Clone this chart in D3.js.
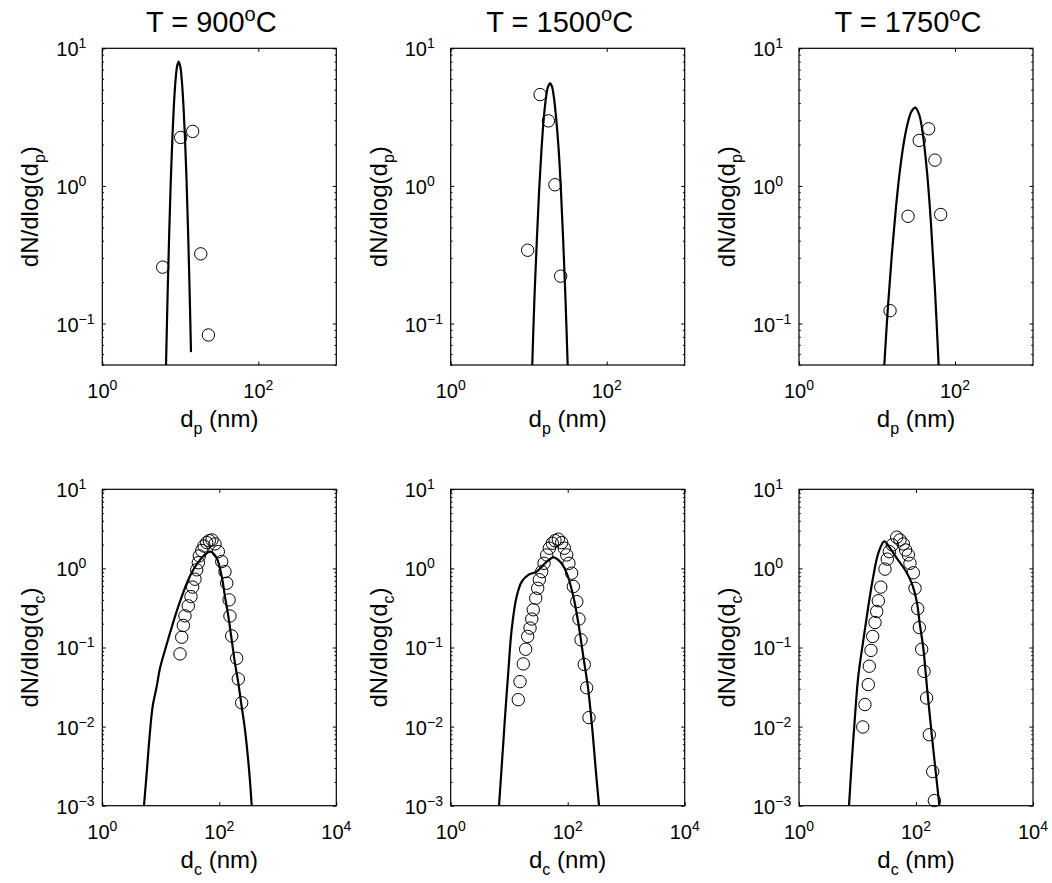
<!DOCTYPE html>
<html>
<head>
<meta charset="utf-8">
<script src="https://cdn.jsdelivr.net/npm/d3@7"></script>
<style>
  body { margin: 0; background: #fff; }
  svg text { font-family: "Liberation Sans", Arial, Helvetica, sans-serif; fill: #000; }
</style>
</head>
<body>
<div id="chart"></div>
<script>
// titles (temperature in degrees C)
const temps = ["900", "1500", "1750"];

// tick values
const xTicksTop = [1, 100];
const xTicksBottom = [1, 100, 10000];
const yTicksTop = [0.1, 1, 10];
const yTicksBottom = [0.001, 0.01, 0.1, 1, 10];

// primary particles, model curves (d_p in nm, dN/dlog(d_p))
const fitP900D = [6.56, 6.90, 7.23, 7.57, 7.93, 8.30, 8.69, 9.10, 9.53, 9.98, 10.45, 10.94, 11.46, 12.0, 12.56, 13.15, 13.71];
const fitP900N = [0.05, 0.177, 0.485, 1.14, 2.30, 3.97, 5.86, 7.40, 8.0, 7.40, 5.86, 3.97, 2.30, 1.14, 0.485, 0.177, 0.062];
const fitP1500D = [11.1, 11.8, 12.7, 13.6, 14.6, 15.6, 16.7, 17.7, 18.8, 19.9, 21.0, 22.5, 24.2, 25.9, 27.7, 29.7, 31.6];
const fitP1500N = [0.05, 0.144, 0.397, 0.929, 1.85, 3.10, 4.43, 5.26, 5.57, 5.26, 4.43, 3.10, 1.85, 0.929, 0.397, 0.144, 0.05];
const fitP1750D = [12.4, 13.8, 15.5, 17.4, 19.5, 21.9, 24.6, 27.6, 31.0, 34.8, 39.0, 43.8, 49.1, 55.1, 61.7];
const fitP1750N = [0.05, 0.131, 0.318, 0.673, 1.245, 2.01, 2.82, 3.47, 3.71, 3.29, 2.30, 1.26, 0.542, 0.184, 0.05];

// primary particles, measurements
const expP900D = [5.95, 10.1, 14.4, 18.3, 22.9];
const expP900N = [0.257, 2.25, 2.49, 0.321, 0.0826];
const expP1500D = [9.7, 14.0, 17.9, 21.7, 25.7];
const expP1500N = [0.341, 4.61, 2.97, 1.02, 0.221];
const expP1750D = [14.7, 25.0, 34.8, 45.9, 55.4, 65.5];
const expP1750N = [0.124, 0.602, 2.14, 2.60, 1.54, 0.62];

// collisional diameter, model curves
const fitC900D = [5.16, 5.74, 6.36, 7.26, 8.5, 9.7, 12.3, 14.9, 18.2, 22.8, 29.5, 36, 46.8, 61, 71.3, 90, 110, 125, 143, 163, 185, 211, 241, 275, 326, 358];
const fitC900N = [0.001, 0.0026, 0.0068, 0.018, 0.032, 0.055, 0.103, 0.167, 0.27, 0.44, 0.72, 0.96, 1.28, 1.56, 1.63, 1.35, 0.79, 0.44, 0.246, 0.125, 0.064, 0.036, 0.018, 0.0091, 0.0026, 0.001];
const fitC1500D = [6.7, 7.9, 8.5, 9.7, 11.0, 13.4, 16.4, 21.2, 29.5, 40.9, 56.7, 73.8, 96.2, 125, 152, 185, 225, 264, 301, 343];
const fitC1500N = [0.001, 0.006, 0.0135, 0.052, 0.167, 0.44, 0.68, 0.83, 0.91, 1.16, 1.38, 1.22, 0.87, 0.44, 0.203, 0.077, 0.029, 0.0091, 0.0029, 0.001];
const fitC1750D = [7.16, 7.96, 9.06, 10.3, 12.6, 15.3, 18.6, 22.7, 28.7, 36, 46.8, 64.9, 84.4, 103, 117, 133, 155, 180, 205, 251];
const fitC1750N = [0.001, 0.0035, 0.0135, 0.043, 0.125, 0.33, 0.79, 1.56, 2.2, 1.8, 1.35, 0.96, 0.65, 0.38, 0.19, 0.1, 0.03, 0.01, 0.004, 0.001];

// collisional diameter, measurements
const expC900D = [21.3, 22.8, 24.3, 25.9, 29.5, 32.8, 35.1, 38.4, 41.1, 43.8, 45.5, 50.0, 54.7, 60.9, 67.5, 75.0, 84.4, 96.2, 110, 125, 134, 147, 152, 163, 198, 211, 241];
const expC900N = [0.083, 0.135, 0.19, 0.251, 0.336, 0.44, 0.58, 0.73, 0.96, 1.18, 1.44, 1.68, 1.92, 2.12, 2.24, 2.29, 2.04, 1.63, 1.22, 0.91, 0.65, 0.40, 0.25, 0.14, 0.073, 0.040, 0.020];
const expC1500D = [14.3, 15.3, 17.4, 19.1, 20.7, 22.7, 24.3, 25.8, 28.4, 30.7, 32.7, 36.0, 39.4, 43.8, 48.5, 54.6, 60.7, 69.2, 78.9, 87.5, 96.2, 105, 117, 125, 143, 156, 169, 192, 211, 231];
const expC1500N = [0.0219, 0.037, 0.062, 0.095, 0.138, 0.176, 0.229, 0.30, 0.42, 0.56, 0.72, 0.91, 1.16, 1.48, 1.80, 2.08, 2.24, 2.34, 2.12, 1.80, 1.48, 1.16, 0.87, 0.59, 0.38, 0.229, 0.125, 0.061, 0.031, 0.013];
const expC1750D = [12.3, 13.4, 15.3, 15.9, 17.0, 18.2, 19.9, 21.3, 22.7, 25.0, 29.5, 32.3, 35, 39.4, 46.8, 53.2, 60.7, 66.5, 73.9, 78.9, 90, 96.2, 107, 114, 125, 137, 152, 169, 193, 206];
const expC1750N = [0.0099, 0.019, 0.034, 0.058, 0.092, 0.138, 0.207, 0.285, 0.39, 0.58, 0.98, 1.31, 1.63, 1.98, 2.48, 2.29, 2.04, 1.71, 1.48, 1.16, 0.88, 0.56, 0.31, 0.179, 0.095, 0.050, 0.023, 0.0079, 0.0027, 0.00116];

const zip = (a, b) => a.map((v, i) => [v, b[i]]);

const width = 1052, height = 883;
const colLeft = [102.3, 450.7, 799];
const panelW = 234;

const rows = [
  { top: 48.3, h: 316.7, xDomain: [1, 1000], yDomain: [0.05, 10], xTicks: xTicksTop, yTicks: yTicksTop, sub: "p" },
  { top: 489.3, h: 316.4, xDomain: [1, 10000], yDomain: [0.001, 10], xTicks: xTicksBottom, yTicks: yTicksBottom, sub: "c" }
];

const panels = [
  { row: 0, col: 0, fit: zip(fitP900D, fitP900N), exp: zip(expP900D, expP900N) },
  { row: 0, col: 1, fit: zip(fitP1500D, fitP1500N), exp: zip(expP1500D, expP1500N) },
  { row: 0, col: 2, fit: zip(fitP1750D, fitP1750N), exp: zip(expP1750D, expP1750N) },
  { row: 1, col: 0, fit: zip(fitC900D, fitC900N), exp: zip(expC900D, expC900N) },
  { row: 1, col: 1, fit: zip(fitC1500D, fitC1500N), exp: zip(expC1500D, expC1500N) },
  { row: 1, col: 2, fit: zip(fitC1750D, fitC1750N), exp: zip(expC1750D, expC1750N) }
];

const svg = d3.select("#chart").append("svg")
  .attr("width", width)
  .attr("height", height);

svg.append("rect").attr("width", width).attr("height", height).attr("fill", "#fff");

// 10^n label with superscript
function powLabel(sel, value) {
  const e = Math.round(Math.log10(value));
  sel.append("tspan").text("10");
  sel.append("tspan")
    .attr("dy", -8)
    .attr("font-size", 14)
    .text(e < 0 ? "\u2212" + (-e) : String(e));
}

const isPow = v => Math.abs(Math.log10(v) - Math.round(Math.log10(v))) < 1e-6;

panels.forEach((p, i) => {
  const r = rows[p.row];
  const left = colLeft[p.col];
  const w = panelW, h = r.h;

  const x = d3.scaleLog().domain(r.xDomain).range([0, w]);
  const y = d3.scaleLog().domain(r.yDomain).range([h, 0]);

  const g = svg.append("g").attr("transform", `translate(${left},${r.top})`);

  g.append("clipPath").attr("id", "clip" + i)
    .append("rect").attr("width", w).attr("height", h);

  // model curve
  const line = d3.line()
    .x(d => x(d[0]))
    .y(d => y(d[1]))
    .curve(d3.curveCatmullRom);

  g.append("path")
    .datum(p.fit)
    .attr("clip-path", `url(#clip${i})`)
    .attr("fill", "none")
    .attr("stroke", "#000")
    .attr("stroke-width", 2.2)
    .attr("stroke-linejoin", "round")
    .attr("d", line);

  // measured points
  g.selectAll("circle.pt")
    .data(p.exp)
    .join("circle")
    .attr("class", "pt")
    .attr("cx", d => x(d[0]))
    .attr("cy", d => y(d[1]))
    .attr("r", 6.2)
    .attr("fill", "none")
    .attr("stroke", "#000")
    .attr("stroke-width", 1);

  // ticks pointing inward, on all four sides
  const minorY = y.ticks().filter(v => !isPow(v));
  const tk = 3.5, tkm = 1.8;

  const axes = [
    [d3.axisBottom(x).tickValues(r.xTicks).tickSize(-tk), `translate(0,${h})`],
    [d3.axisTop(x).tickValues(r.xTicks).tickSize(-tk), "translate(0,0)"],
    [d3.axisLeft(y).tickValues(r.yTicks).tickSize(-tk), "translate(0,0)"],
    [d3.axisRight(y).tickValues(r.yTicks).tickSize(-tk), `translate(${w},0)`],
    [d3.axisLeft(y).tickValues(minorY).tickSize(-tkm), "translate(0,0)"],
    [d3.axisRight(y).tickValues(minorY).tickSize(-tkm), `translate(${w},0)`]
  ];
  axes.forEach(([ax, tr]) => {
    const a = g.append("g").attr("transform", tr).call(ax.tickFormat(""));
    a.select(".domain").remove();
    a.selectAll("line").attr("stroke", "#000").attr("stroke-width", 1);
  });

  // frame
  g.append("rect")
    .attr("width", w).attr("height", h)
    .attr("fill", "none")
    .attr("stroke", "#000")
    .attr("stroke-width", 1.2);

  // x tick labels
  r.xTicks.forEach(v => {
    g.append("text")
      .attr("x", x(v))
      .attr("y", h + 33)
      .attr("text-anchor", "middle")
      .attr("font-size", 20)
      .call(powLabel, v);
  });

  // y tick labels
  r.yTicks.forEach(v => {
    g.append("text")
      .attr("x", -46)
      .attr("y", y(v) + 8)
      .attr("text-anchor", "start")
      .attr("font-size", 20)
      .call(powLabel, v);
  });

  // x axis label
  const xl = g.append("text")
    .attr("x", w / 2)
    .attr("y", h + 62)
    .attr("text-anchor", "middle")
    .attr("font-size", 24);
  xl.append("tspan").text("d");
  xl.append("tspan").attr("dy", 7).attr("font-size", 16).text(r.sub);
  xl.append("tspan").attr("dy", -7).text(" (nm)");

  // y axis label
  const yl = g.append("text")
    .attr("transform", `translate(-64,${h / 2}) rotate(-90)`)
    .attr("text-anchor", "middle")
    .attr("font-size", 24);
  yl.append("tspan").text("dN/dlog(d");
  yl.append("tspan").attr("dy", 7).attr("font-size", 16).text(r.sub);
  yl.append("tspan").attr("dy", -7).text(")");

  // title on the top row
  if (p.row === 0) {
    const t = g.append("text")
      .attr("x", w / 2 - 8)
      .attr("y", -16.6)
      .attr("text-anchor", "middle")
      .attr("font-size", 29);
    t.append("tspan").text("T = " + temps[p.col]);
    t.append("tspan").attr("dy", -11).attr("font-size", 20).text("o");
    t.append("tspan").attr("dy", 11).text("C");
  }
});
</script>
</body>
</html>
